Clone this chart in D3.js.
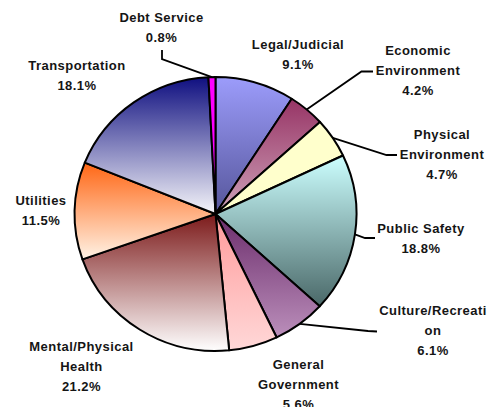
<!DOCTYPE html>
<html>
<head>
<meta charset="utf-8">
<script src="https://cdn.jsdelivr.net/npm/d3@7/dist/d3.min.js"></script>
<style>
  html, body { margin: 0; padding: 0; background: #fff; }
  svg { display: block; }
  text { font-family: "Liberation Sans", Arial, sans-serif; font-weight: bold; font-size: 13px; fill: #151515; letter-spacing: 0.45px; }
</style>
</head>
<body>
<svg id="chart" width="499" height="407"></svg>
<script>
// Spending shares by category, clockwise from 12 o'clock
const categories = [
  "Legal/Judicial",
  "Economic\nEnvironment",
  "Physical\nEnvironment",
  "Public Safety",
  "Culture/Recreati\non",
  "General\nGovernment",
  "Mental/Physical\nHealth",
  "Utilities",
  "Transportation",
  "Debt Service"
];
const shares = [9.1, 4.2, 4.7, 18.8, 6.1, 5.6, 21.2, 11.5, 18.1, 0.8];
const shareLabels = ["9.1%", "4.2%", "4.7%", "18.8%", "6.1%", "5.6%", "21.2%", "11.5%", "18.1%", "0.8%"];

// Vertical gradient fill per slice: [top colour, bottom colour]
const fills = [
  ["#9c9cfb", "#55559a"],
  ["#973465", "#cfa3ba"],
  ["#ffffcc", "#ffffcc"],
  ["#ccffff", "#4a6868"],
  ["#6b2c6b", "#bb8fbb"],
  ["#ff9a9a", "#ffd8d8"],
  ["#7c1a1a", "#ffffff"],
  ["#ff6614", "#fff3e6"],
  ["#0f0f80", "#f6f6fa"],
  ["#ff00ff", "#ff00ff"]
];

// Label placement: text centre x, first-line cap centre y, optional leader path (end, elbow)
const labelLayout = [
  { x: 298, y: 44 },
  { x: 418, y: 50, leader: [[373, 71.5], [361.5, 71.5]] },
  { x: 442, y: 134.5, leader: [[397, 155], [386.5, 155]] },
  { x: 421, y: 228, leader: [[375, 238], [365, 238]] },
  { x: 433, y: 310.5, leader: [[377, 331.5], [368, 331]] },
  { x: 298.5, y: 364 },
  { x: 81.5, y: 346 },
  { x: 41, y: 200.5 },
  { x: 77, y: 65 },
  { x: 161.5, y: 17.2, leader: [[162, 50], [162, 59]] }
];

const cx = 215.5, cy = 214, rx = 141, ry = 137;
const lineStep = 20;

const svg = d3.select("#chart");
const defs = svg.append("defs");

fills.forEach((f, i) => {
  const g = defs.append("linearGradient")
    .attr("id", "grad" + i)
    .attr("x1", 0).attr("y1", 0).attr("x2", 0).attr("y2", 1);
  g.append("stop").attr("offset", "0%").attr("stop-color", f[0]);
  g.append("stop").attr("offset", "100%").attr("stop-color", f[1]);
});

const pie = d3.pie().sort(null).value(d => d)
  .startAngle(0).endAngle(2 * Math.PI);
const arcs = pie(shares);

const arc = d3.arc().innerRadius(0).outerRadius(ry);

const pieG = svg.append("g")
  .attr("transform", `translate(${cx},${cy}) scale(${rx / ry},1)`);

pieG.selectAll("path.slice")
  .data(arcs)
  .join("path")
  .attr("class", "slice")
  .attr("d", arc)
  .attr("fill", (d, i) => `url(#grad${i})`)
  .attr("stroke", "#000")
  .attr("stroke-width", 2)
  .attr("stroke-linejoin", "round")
  .attr("vector-effect", "non-scaling-stroke");

// Leader lines from slice mid-angle on the rim to the label
const rimPoint = a => [cx + rx * Math.sin(a), cy - ry * Math.cos(a)];

arcs.forEach((d, i) => {
  const lay = labelLayout[i];
  if (!lay.leader) return;
  const mid = (d.startAngle + d.endAngle) / 2;
  const p = rimPoint(mid);
  const pts = [lay.leader[0], lay.leader[1], p];
  svg.append("path")
    .attr("d", d3.line()(pts))
    .attr("fill", "none")
    .attr("stroke", "#000")
    .attr("stroke-width", 1.8);
});

// Category labels with value line
arcs.forEach((d, i) => {
  const lay = labelLayout[i];
  const lines = categories[i].split("\n").concat([shareLabels[i]]);
  const t = svg.append("text")
    .attr("text-anchor", "middle");
  lines.forEach((ln, k) => {
    t.append("tspan")
      .attr("x", lay.x)
      .attr("y", lay.y + 4.6 + k * lineStep)
      .text(ln);
  });
});
</script>
</body>
</html>
